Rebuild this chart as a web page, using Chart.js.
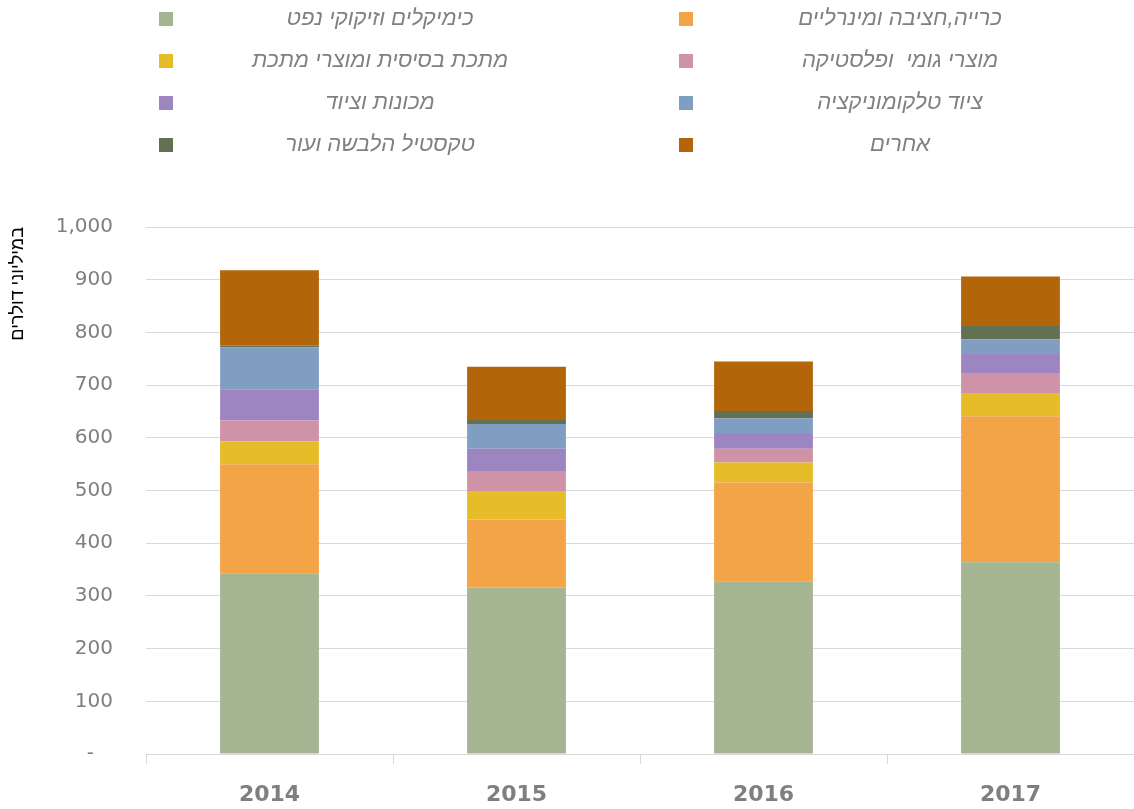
<!DOCTYPE html>
<html>
<head>
<meta charset="utf-8">
<script src="https://cdn.jsdelivr.net/npm/chart.js@4/dist/chart.umd.min.js"></script>
<style>
  body { margin: 0; background: #fff; }
  #wrap { position: relative; width: 1134px; height: 809px; }
</style>
</head>
<body>
<div id="wrap">
  <canvas id="chartBar"></canvas>
</div>
<script>
var years = ['2014', '2015', '2016', '2017'];

var chemicals = [343, 316, 328, 364];
var mining = [207, 129, 187, 277];
var metals = [43, 54, 38, 44];
var rubber = [40, 38, 26, 38];
var machinery = [59, 42, 30, 36];
var telecom = [80, 47, 28, 28];
var textile = [3, 8, 14, 25];
var others = [143, 101, 94, 94];

var seriesNames = ['כימיקלים וזיקוקי נפט', 'כרייה,חציבה ומינרליים', 'מתכת בסיסית ומוצרי מתכת', 'מוצרי גומי  ופלסטיקה',
  'מכונות וציוד', 'ציוד טלקומוניקציה', 'טקסטיל הלבשה ועור', 'אחרים'];
var seriesData = [chemicals, mining, metals, rubber, machinery, telecom, textile, others];
var seriesColors = ['#A5B592', '#F3A447', '#E7BC29', '#D092A7', '#9C85C0', '#809EC2', '#637052', '#B26509'];

var datasets = seriesNames.map(function (name, i) {
  return {
    label: name,
    data: seriesData[i],
    backgroundColor: seriesColors[i],
    borderWidth: 0,
    barPercentage: 0.4,
    categoryPercentage: 1
  };
});

// two-column legend like the Excel one, drawn on the canvas
var gridLegend = {
  id: 'gridLegend',
  afterDraw: function (chart) {
    var c = chart.ctx;
    c.save();
    c.font = 'italic 22px "Liberation Sans"';
    c.fillStyle = '#808080';
    c.textAlign = 'center';
    c.textBaseline = 'middle';
    c.direction = 'rtl';
    chart.data.datasets.forEach(function (ds, i) {
      var x = 159 + (i % 2) * 520;
      var y = 19 + Math.floor(i / 2) * 42;
      c.fillStyle = ds.backgroundColor;
      c.fillRect(x, y - 7, 14, 14);
      c.fillStyle = '#808080';
      c.fillText(ds.label, x + 26 + 195, y);
    });
    c.restore();
  }
};

var ctx = document.getElementById('chartBar').getContext('2d');
var chartBar = new Chart(ctx, {
  type: 'bar',
  data: { labels: years, datasets: datasets },
  plugins: [gridLegend],
  options: {
    responsive: true,
    maintainAspectRatio: false,
    animation: false,
    layout: { padding: { top: 227, right: 0, left: 0, bottom: 0 } },
    plugins: { legend: { display: false }, tooltip: { enabled: false } },
    scales: {
      x: {
        stacked: true,
        afterFit: function (scale) { scale.height = 55; },
        grid: { offset: true, drawOnChartArea: false, drawTicks: true, tickLength: 10, color: '#d9d9d9' },
        border: { display: true, color: '#d9d9d9' },
        ticks: { color: '#7f7f7f', padding: 18, font: { family: 'DejaVu Sans', size: 22, weight: 'bold' } }
      },
      y: {
        stacked: true,
        min: 0,
        max: 1000,
        afterFit: function (scale) { scale.width = 146; },
        grid: { color: '#d9d9d9', drawTicks: false },
        border: { display: false },
        ticks: {
          stepSize: 100,
          padding: 33,
          color: '#7f7f7f',
          font: { family: 'DejaVu Sans', size: 20 },
          callback: function (v) { return v === 0 ? '-   ' : v.toLocaleString('en-US'); }
        },
        title: {
          display: true,
          text: 'במיליוני דולרים',
          align: 'end',
          color: '#000',
          padding: { top: 7, bottom: 0 },
          font: { family: 'Liberation Sans', size: 18 }
        }
      }
    }
  }
});
</script>
</body>
</html>
